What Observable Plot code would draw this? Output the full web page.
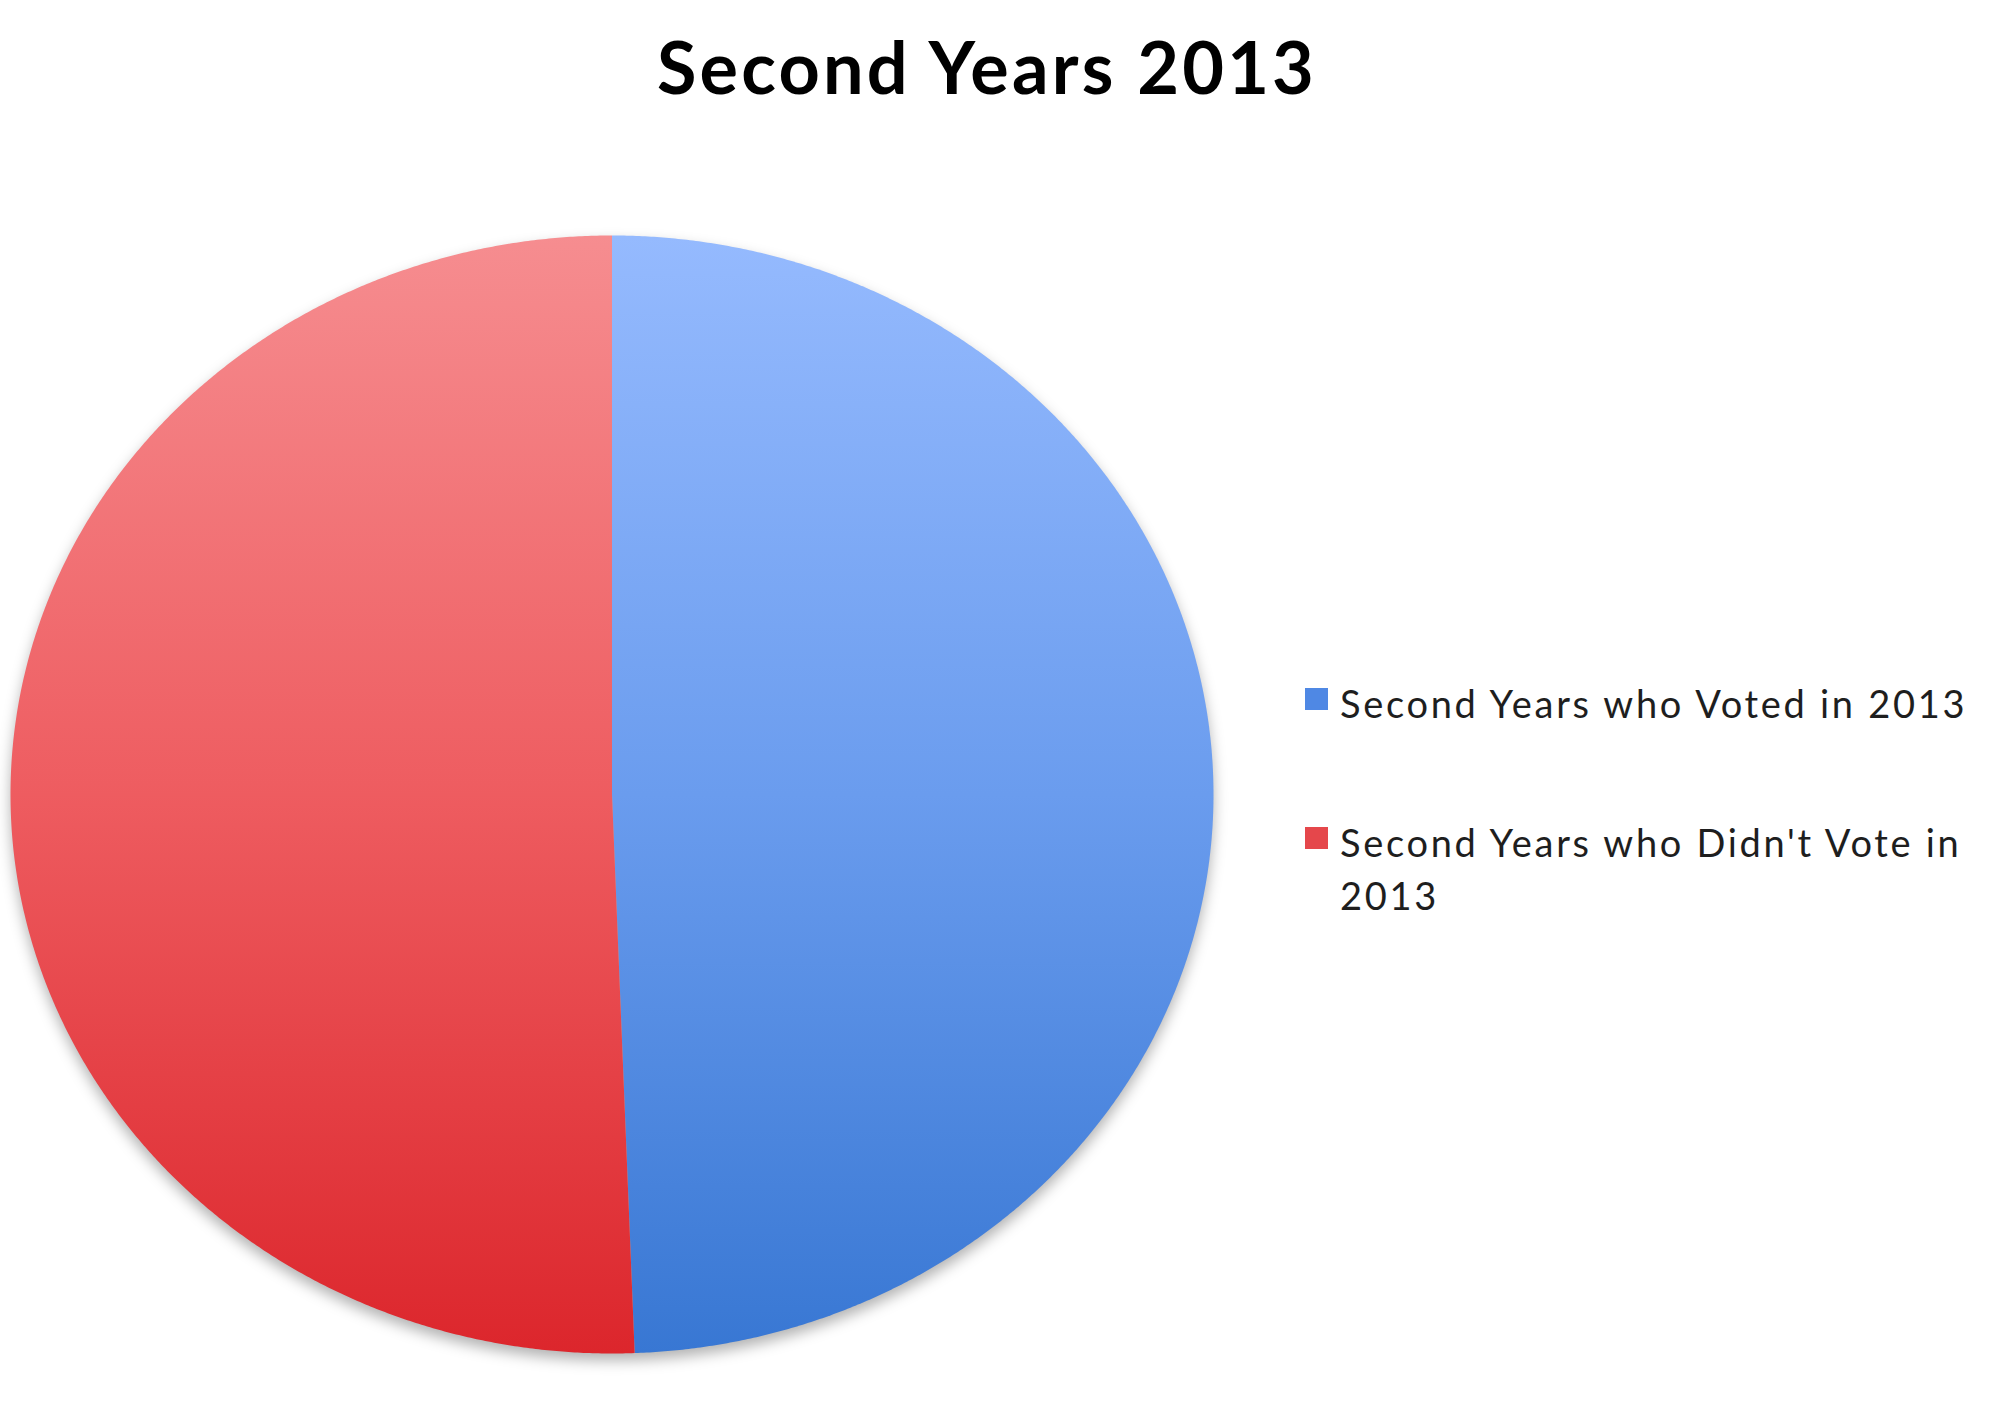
<!DOCTYPE html>
<html>
<head>
<meta charset="utf-8">
<script src="https://cdn.jsdelivr.net/npm/d3@7"></script>
<script src="https://cdn.jsdelivr.net/npm/@observablehq/plot@0.6"></script>
<style>
  body { margin: 0; background: #fff; }
  #page { position: relative; width: 2000px; height: 1402px; font-family: Lato, "Open Sans", sans-serif; overflow: hidden; }
  #title { position: absolute; left: 0; top: 24px; width: 1974px; text-align: center; font-weight: 700; font-size: 72px; letter-spacing: 3.2px; line-height: 84px; color: #000; }
  #chart { position: absolute; left: 0; top: 140px; }
  .legend-item { position: absolute; left: 1340px; width: 645px; font-size: 38px; letter-spacing: 2.7px; line-height: 53px; color: #1e1e1e; }
  .swatch { position: absolute; left: -35px; top: 11px; width: 23px; height: 22px; }
</style>
</head>
<body>
<div id="page">
  <div id="title">Second Years 2013</div>
  <div id="chart"></div>
  <div id="legend"></div>
</div>
<script>
// ---- data ----
const categories = ["Second Years who Voted in 2013", "Second Years who Didn't Vote in 2013"];
const values = [49.4, 50.6];
// ---- styles ----
const gradTop = ["#95bafe", "#f68d90"];
const gradMid = ["#6a9cee", "#ee5c60"];
const gradBottom = ["#3877d3", "#dc262c"];
const swatchColors = ["#4f88e4", "#e5474b"];
const legendTops = [677, 816];

const W = 2000, H = 1262;
const pie = d3.pie().sort(null)(values);

// build slice outlines (center + arc samples) from pie angles
const slices = pie.map((p, i) => {
  const n = Math.max(2, Math.ceil((p.endAngle - p.startAngle) / 0.005));
  const pts = [{k: i, x: 0, y: 0}];
  for (let j = 0; j <= n; j++) {
    const a = p.startAngle + (p.endAngle - p.startAngle) * j / n;
    pts.push({k: i, x: Math.sin(a), y: Math.cos(a)});
  }
  pts.push({k: i, x: 0, y: 0});
  return pts;
});
const full = d3.range(0, 721).map(j => {
  const a = j / 720 * 2 * Math.PI;
  return {x: Math.sin(a), y: Math.cos(a)};
});

const plot = Plot.plot({
  width: W,
  height: H,
  marginLeft: 10,
  marginRight: 787,
  marginTop: 95,
  marginBottom: 49,
  x: {domain: [-1, 1], axis: null},
  y: {domain: [-1, 1], axis: null},
  style: {background: "transparent", overflow: "visible"},
  marks: [
    Plot.line(full, {x: "x", y: "y", fill: "#000", fillOpacity: 0.3, stroke: "none", dy: 7, ariaDescription: "shadow"}),
    ...slices.map((s, i) => Plot.line(s, {x: "x", y: "y", fill: `url(#grad${i})`, stroke: "none", curve: "linear", ariaDescription: "slice"}))
  ]
});

// gradients
const svg = d3.select(plot);
const yTop = plot.scale("y").apply(1), yBot = plot.scale("y").apply(-1);
const defs = svg.insert("defs", ":first-child");
values.forEach((v, i) => {
  const g = defs.append("linearGradient").attr("id", `grad${i}`)
    .attr("gradientUnits", "userSpaceOnUse")
    .attr("x1", 0).attr("x2", 0).attr("y1", yTop).attr("y2", yBot);
  g.append("stop").attr("offset", "0%").attr("stop-color", gradTop[i]);
  g.append("stop").attr("offset", "50%").attr("stop-color", gradMid[i]);
  g.append("stop").attr("offset", "100%").attr("stop-color", gradBottom[i]);
});
svg.selectAll("[aria-description=shadow]").style("filter", "blur(7px)");
document.getElementById("chart").appendChild(plot);

// legend
const legend = d3.select("#legend");
categories.forEach((c, i) => {
  const item = legend.append("div").attr("class", "legend-item").style("top", legendTops[i] + "px");
  item.append("div").attr("class", "swatch").style("background", swatchColors[i]);
  item.append("span").text(c);
});
</script>
</body>
</html>
